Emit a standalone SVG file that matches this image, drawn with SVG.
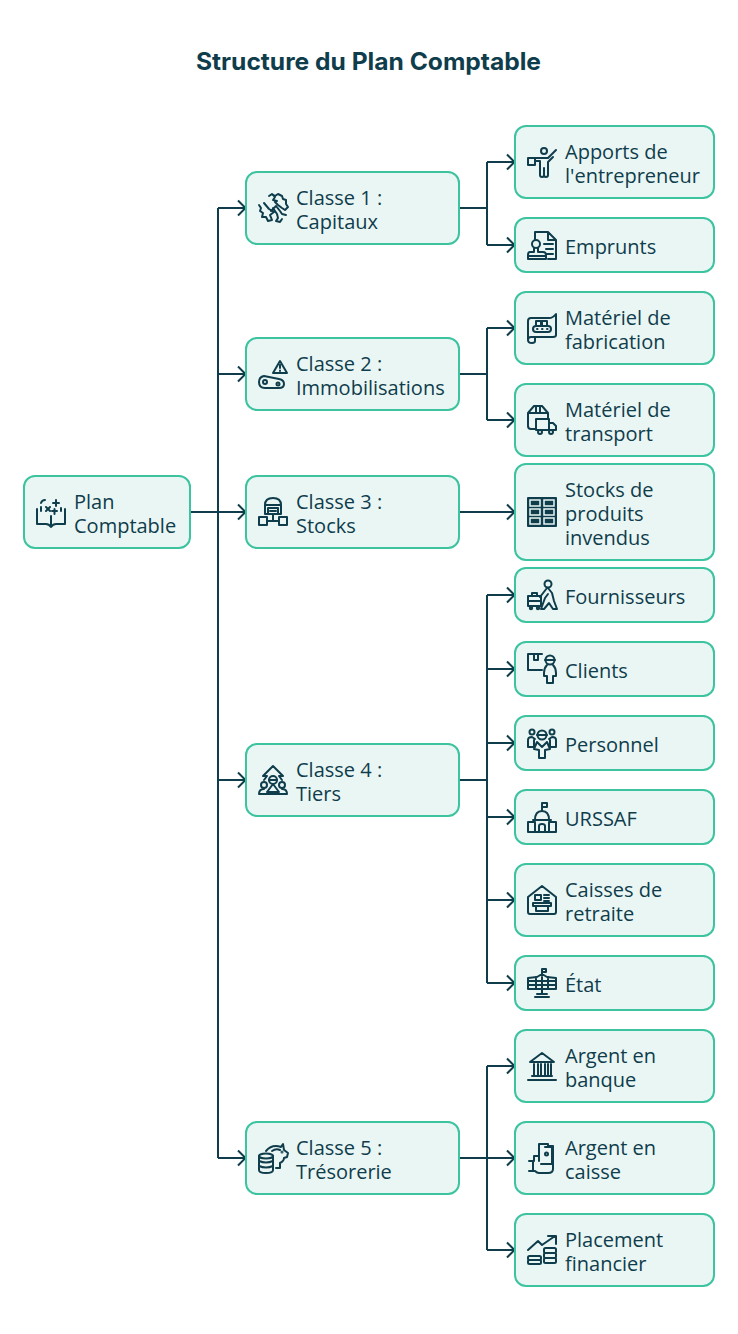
<svg xmlns="http://www.w3.org/2000/svg" width="738" height="1334" viewBox="0 0 738 1334">
<style>
text{font-family:"Open Sans","Noto Sans","DejaVu Sans",sans-serif;font-size:20px;fill:#0f3d4c}
.t{font-family:Inter,"Liberation Sans",sans-serif;font-size:24px;font-weight:700;fill:#0f3d4c}
.b{fill:#eaf6f4;stroke:#3cc3a0;stroke-width:2}
.c{fill:none;stroke:#0f3d4c;stroke-width:2}
.i{fill:none;stroke:#0f3d4c;stroke-width:2;stroke-linejoin:round;stroke-linecap:round}
.f{fill:#0f3d4c;stroke:none}
</style>
<defs>
<marker id="a" markerUnits="userSpaceOnUse" markerWidth="14" markerHeight="18" refX="12" refY="9" orient="auto"><path d="M4 1.500L11.500 9L4 16.500" fill="none" stroke="#0f3d4c" stroke-width="2"/></marker>
</defs>
<text class="t" x="196" y="70" textLength="345" lengthAdjust="spacingAndGlyphs">Structure du Plan Comptable</text>
<g id="connectors">
<path class="c" d="M190 512H218"/>
<path class="c" d="M218 208V1158"/>
<path class="c" marker-end="url(#a)" d="M218 208H246"/>
<path class="c" marker-end="url(#a)" d="M218 374H246"/>
<path class="c" marker-end="url(#a)" d="M218 512H246"/>
<path class="c" marker-end="url(#a)" d="M218 780H246"/>
<path class="c" marker-end="url(#a)" d="M218 1158H246"/>
<path class="c" d="M459 208H487M487 162V245"/>
<path class="c" marker-end="url(#a)" d="M487 162H515"/>
<path class="c" marker-end="url(#a)" d="M487 245H515"/>
<path class="c" d="M459 374H487M487 328V420"/>
<path class="c" marker-end="url(#a)" d="M487 328H515"/>
<path class="c" marker-end="url(#a)" d="M487 420H515"/>
<path class="c" marker-end="url(#a)" d="M459 512H515"/>
<path class="c" d="M459 780H487M487 595V983"/>
<path class="c" marker-end="url(#a)" d="M487 595H515"/>
<path class="c" marker-end="url(#a)" d="M487 669H515"/>
<path class="c" marker-end="url(#a)" d="M487 743H515"/>
<path class="c" marker-end="url(#a)" d="M487 817H515"/>
<path class="c" marker-end="url(#a)" d="M487 900H515"/>
<path class="c" marker-end="url(#a)" d="M487 983H515"/>
<path class="c" d="M459 1158H487M487 1066V1250"/>
<path class="c" marker-end="url(#a)" d="M487 1066H515"/>
<path class="c" marker-end="url(#a)" d="M487 1158H515"/>
<path class="c" marker-end="url(#a)" d="M487 1250H515"/>
</g>
<g id="root"><rect class="b" x="24" y="476" width="166" height="72" rx="11"/>
<g transform="translate(36,497)" class="i"><path d="M1 12V27H10Q13 27 15 30Q17 27 20 27H29V12M15 19V30M5 14V10M25 14V11M5 6Q6 3 9 3M17 6H23M20 3V9M10 10L14 14M14 10L10 14M16 14H21M18.500 12V17"/></g>
<text x="74" y="509">Plan<tspan x="74" dy="24">Comptable</tspan></text></g>

<g id="classe1"><rect class="b" x="246" y="172" width="213" height="72" rx="11"/>
<g transform="translate(258,193)" class="i" stroke-width="1.800"><path d="M11 3L14 1L17 3L20 1L24 3L25 6L28 7L28 11L30 14L27 17L24 15L20 12L17 9M14 1L17 4L15 7L19 8M1 12L3 15L2 18L5 20L4 24L8 24L10 28L14 27L12 22L16 19L11 16L6 10M13 18L18 13L22 18L24 21L28 22M15 15L19 21L20 25L18 28L22 29L24 26"/></g>
<text x="296" y="205">Classe 1 :<tspan x="296" dy="24">Capitaux</tspan></text></g>

<g id="classe2"><rect class="b" x="246" y="338" width="213" height="72" rx="11"/>
<g transform="translate(258,359)" class="i"><path d="M22 2L29 14H15ZM22 6V9M22 11.500V12"/><path d="M6 17L21 20Q26 21 26 25Q26 29 21 29H7Q1 29 1 23Q1 18 6 17Z"/><circle cx="7" cy="23" r="2"/><circle cx="20" cy="25" r="1.500"/></g>
<text x="296" y="371">Classe 2 :<tspan x="296" dy="24">Immobilisations</tspan></text></g>

<g id="classe3"><rect class="b" x="246" y="476" width="213" height="72" rx="11"/>
<g transform="translate(258,496)" class="i"><path d="M7 18V9Q7 2 15 2Q23 2 23 9V18ZM7 9H23M10 12H20V18H10ZM12 15H18M15 18V25M9 25H21"/><rect x="1" y="21" width="8" height="8"/><rect x="21" y="21" width="8" height="8"/></g>
<text x="296" y="509">Classe 3 :<tspan x="296" dy="24">Stocks</tspan></text></g>

<g id="classe4"><rect class="b" x="246" y="744" width="213" height="72" rx="11"/>
<g transform="translate(258,765)" class="i"><path d="M15 1L25 11H21L24 15M15 1L5 11H9L6 15"/><circle cx="15" cy="15" r="4"/><path d="M11 15H19M15 19L9 27H21Z"/><circle cx="6" cy="20" r="3"/><circle cx="24" cy="20" r="3"/><path d="M1 29Q1 24 6 24M29 29Q29 24 24 24M1 29H29"/></g>
<text x="296" y="777">Classe 4 :<tspan x="296" dy="24">Tiers</tspan></text></g>

<g id="classe5"><rect class="b" x="246" y="1122" width="213" height="72" rx="11"/>
<g transform="translate(258,1143)" class="i"><path d="M8 8Q14 1 23 4L25 1L26 7L30 10L29 14L26 15Q26 18 22 20V25H18M14 8Q18 5 22 7"/><circle cx="24" cy="9" r="0.500"/><ellipse cx="8" cy="13" rx="7" ry="2.500"/><path d="M1 13V27Q1 30 8 30Q15 30 15 27V13M1 18Q8 21 15 18M1 23Q8 26 15 23"/></g>
<text x="296" y="1155">Classe 5 :<tspan x="296" dy="24">Trésorerie</tspan></text></g>

<g id="apports"><rect class="b" x="515" y="126" width="199" height="72" rx="11"/>
<g transform="translate(527,147)" class="i"><circle cx="17" cy="4" r="3"/><path d="M1 11H8V18H1ZM8 11H21L29 3M8 14H13V28Q13 30 15 30Q17 30 17 28V21V28Q17 30 19 30Q21 30 21 28V15L26 10"/></g>
<text x="565" y="159">Apports de<tspan x="565" dy="24">l'entrepreneur</tspan></text></g>

<g id="emprunts"><rect class="b" x="515" y="218" width="199" height="54" rx="11"/>
<g transform="translate(527,230)" class="i"><path d="M8 9V2H21L29 10V29H21M21 2V10H29M17 14H26M19 19H26M19 24H26"/><circle cx="9" cy="14" r="4"/><path d="M7 18V22H3Q1 22 1 25V29H19V25Q19 22 16 22H11V18M1 26H19"/></g>
<text x="565" y="254">Emprunts</text></g>

<g id="fabrication"><rect class="b" x="515" y="292" width="199" height="72" rx="11"/>
<g transform="translate(527,313)" class="i"><path d="M29 1V22Q29 24 26 24H8V28Q8 30 5 30Q1 30 1 27V8Q1 5 4 5H22Q26 5 29 1ZM1 27Q1 24 4 24H8"/><rect x="9" y="8" width="5" height="5"/><rect x="15" y="8" width="5" height="5"/><rect x="6" y="13" width="18" height="6" rx="3"/><path d="M10 16H10.500M15 16H15.500M20 16H20.500"/></g>
<text x="565" y="325">Matériel de<tspan x="565" dy="24">fabrication</tspan></text></g>

<g id="transport"><rect class="b" x="515" y="384" width="199" height="72" rx="11"/>
<g transform="translate(527,405)" class="i"><path d="M9 24H4Q1 24 1 21V8L7 1H15L21 8V13M1 8H21M9 1V8M13 1V8"/><path d="M9 14H22V25H9ZM22 18H26L29 21V25H22"/><circle cx="13" cy="27" r="2"/><circle cx="24" cy="27" r="2"/></g>
<text x="565" y="417">Matériel de<tspan x="565" dy="24">transport</tspan></text></g>

<g id="invendus"><rect class="b" x="515" y="464" width="199" height="96" rx="11"/>
<g transform="translate(527,497)"><rect class="f" x="0" y="0" width="30" height="30" rx="1"/><g fill="none" stroke="#eaf6f4" stroke-width="1.500"><rect x="3" y="3" width="10" height="6"/><rect x="17" y="3" width="10" height="6"/><rect x="3" y="12" width="10" height="6"/><rect x="17" y="12" width="10" height="6"/><rect x="3" y="21" width="10" height="6"/><rect x="17" y="21" width="10" height="6"/></g></g>
<text x="565" y="497">Stocks de<tspan x="565" dy="24">produits</tspan><tspan x="565" dy="24">invendus</tspan></text></g>

<g id="fournisseurs"><rect class="b" x="515" y="568" width="199" height="54" rx="11"/>
<g transform="translate(527,579)" class="i"><circle cx="21" cy="5" r="3.500"/><path d="M20 9L13 18M21 9L25 14L27 22L30 30H26L22 24L17 30H14L18 19L21 15M1 17H14V27H1ZM5 17V14H10V17M1 22H14"/><circle cx="4" cy="29" r="1.200"/><circle cx="11" cy="29" r="1.200"/></g>
<text x="565" y="604">Fournisseurs</text></g>

<g id="clients"><rect class="b" x="515" y="642" width="199" height="54" rx="11"/>
<g transform="translate(527,654)" class="i"><path d="M1 0V16H15M1 0H15M7 0V6H11V0"/><circle cx="23" cy="6" r="4.500"/><path d="M18 6H28M20 11Q17 14 17 19V22H20V29H26V22H29V19Q29 14 26 11"/></g>
<text x="565" y="678">Clients</text></g>

<g id="personnel"><rect class="b" x="515" y="716" width="199" height="54" rx="11"/>
<g transform="translate(527,728)" class="i"><circle cx="5" cy="4" r="2.500"/><circle cx="25" cy="4" r="2.500"/><circle cx="15" cy="7" r="4.500"/><path d="M10 7H20M1 19V12Q1 9 5 9L8 11M29 19V12Q29 9 25 9L22 11M1 19H7V12M29 19H23V12M10 14L7 21L12 22V30H18V22L23 21L20 14L15 19Z"/></g>
<text x="565" y="752">Personnel</text></g>

<g id="urssaf"><rect class="b" x="515" y="790" width="199" height="54" rx="11"/>
<g transform="translate(527,802)" class="i"><path d="M15 9V1H20V5H15M8 18Q8 9 15 9Q22 9 22 18M6 18H24M1 20H8V30H1ZM22 20H29V30H22ZM8 30H22M12 30V24Q12 22 15 22Q18 22 18 24V30M1 30H29"/></g>
<text x="565" y="826">URSSAF</text></g>

<g id="retraite"><rect class="b" x="515" y="864" width="199" height="72" rx="11"/>
<g transform="translate(527,885)" class="i"><path d="M1 12L15 1L29 12V27Q29 29 27 29H3Q1 29 1 27ZM8 10H14V15H8ZM17 10H22M17 13H22M17 16H22M6 18H24V21H6ZM9 21V26H21V21"/></g>
<text x="565" y="897">Caisses de<tspan x="565" dy="24">retraite</tspan></text></g>

<g id="etat"><rect class="b" x="515" y="956" width="199" height="54" rx="11"/>
<g transform="translate(527,967)" class="i"><path d="M15 7V2H19V5H15M1 11L10 10L15 7L20 10L29 11V22H1ZM9 10V22M21 10V22M15 10V22M1 14H29M1 18H29M15 22V27M10 27H20M8 30H22"/></g>
<text x="565" y="992">État</text></g>

<g id="banque"><rect class="b" x="515" y="1030" width="199" height="72" rx="11"/>
<g transform="translate(527,1051)" class="i"><path d="M3 11L15 2L27 11ZM1 29H29M5 25H25M7 13V24M11 13V24M14 13V24M18 13V24M21 13V24M24 13V24"/></g>
<text x="565" y="1063">Argent en<tspan x="565" dy="24">banque</tspan></text></g>

<g id="caisse"><rect class="b" x="515" y="1122" width="199" height="72" rx="11"/>
<g transform="translate(527,1143)" class="i"><path d="M12 18V1H21V3H26V22M18 4H25V21H14"/><circle cx="19.500" cy="11" r="1.500"/><path d="M12 13H7V18H2M2 28H8Q10 30 12 30H21Q26 30 26 26V22M6 18V28"/></g>
<text x="565" y="1155">Argent en<tspan x="565" dy="24">caisse</tspan></text></g>

<g id="placement"><rect class="b" x="515" y="1214" width="199" height="72" rx="11"/>
<g transform="translate(527,1235)" class="i"><path d="M1 15L11 6L15 10L28 1M21 1H29V9"/><rect x="1" y="21" width="13" height="4" rx="1.500"/><rect x="1" y="25" width="13" height="4" rx="1.500"/><rect x="17" y="13" width="12" height="5" rx="1.500"/><rect x="17" y="18" width="12" height="5" rx="1.500"/><rect x="17" y="23" width="12" height="5" rx="1.500"/></g>
<text x="565" y="1247">Placement<tspan x="565" dy="24">financier</tspan></text></g>
</svg>
